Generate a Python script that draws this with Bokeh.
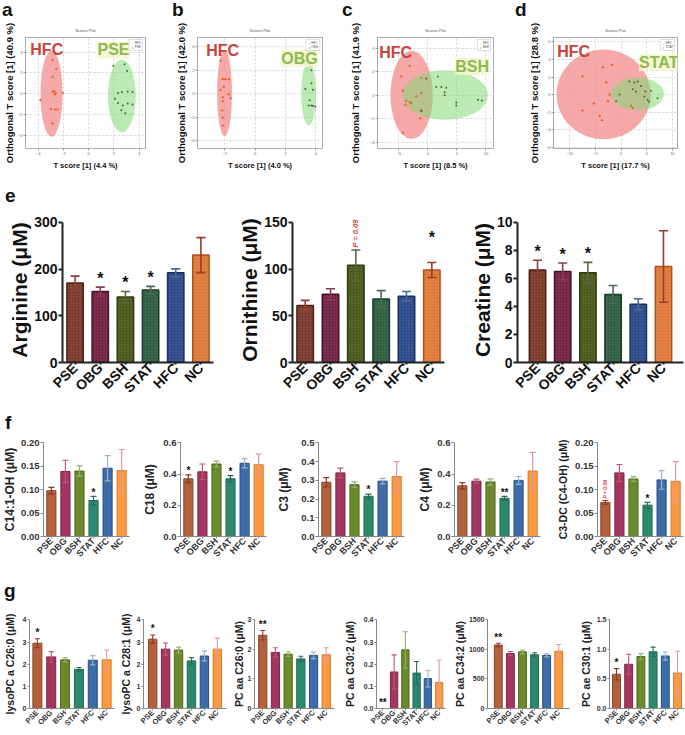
import math
from bokeh.plotting import figure
from bokeh.layouts import row, column
from bokeh.models import (Range1d, FactorRange, FixedTicker, Div, Label, Legend,
                          LegendItem, NumeralTickFormatter, ColumnDataSource)
from bokeh.core.properties import value
from bokeh.embed import file_html
from bokeh.resources import INLINE

FONT = "Liberation Sans"
groups = ["PSE", "OBG", "BSH", "STAT", "HFC", "NC"]

# ---------------- a-d : OPLS-DA score plots ----------------
a_hfc_x = [-2.86, -2.56, -2.86, -2.73, -2.86, -2.61, -2.68, -2.03, -3.82, -2.99, -2.68, -2.48, -2.86]
a_hfc_y = [3.24, 2.38, 1.62, 0.28, 0.17, 0.08, -0.06, 0.08, -0.62, -1.45, -1.51, -1.51, -2.85]
a_grp_x = [1.95, 2.84, 3.04, 2.33, 2.63, 3.09, 3.47, 2.08, 2.33, 3.09, 3.47, 2.71, 2.58, 2.89]
a_grp_y = [2.69, 2.83, 2.18, 0.08, 0.17, 0.22, 0.17, -0.48, -0.90, -0.95, -1.03, -1.12, -1.59, -1.87]
a_ell_hfc = [-2.94, 0.0, 1.75, 8.25]
a_ell_grp = [2.63, -0.2, 2.2, 7.0]

b_hfc_x = [-2.28, -2.13, -1.96, -1.74, -2.07, -2.28, -1.74, -2.13, -1.63, -2.13, -2.17, -2.13, -2.13]
b_hfc_y = [2.83, 1.25, 1.25, 1.25, 0.58, 0.33, -0.05, -0.30, -0.38, -0.63, -1.43, -2.05, -2.73]
b_grp_x = [3.70, 3.70, 3.30, 3.80, 3.59, 3.70, 3.80, 3.52, 3.96]
b_grp_y = [2.00, 0.90, 0.40, 0.33, -0.55, -1.00, -1.05, -1.00, -1.10]
b_ell_hfc = [-2.02, 0.05, 0.98, 7.4]
b_ell_grp = [3.52, 0.0, 0.98, 5.4]

c_hfc_x = [-3.16, -4.60, -1.15, -4.31, -1.15, -2.00, -3.74, -3.16, -3.90, -2.87, -1.15, -1.32, -4.31]
c_hfc_y = [2.48, 1.59, 1.47, 0.38, 0.20, -0.10, -0.48, -0.56, -0.81, -0.68, -1.27, -1.95, -3.16]
c_grp_x = [1.72, -0.29, 1.44, 2.30, 3.16, 2.87, 2.87, 4.89, 4.89, 8.62, 9.31, -1.15]
c_grp_y = [1.59, 1.42, 0.71, 0.71, 0.63, 0.25, 0.00, -0.61, -0.86, -0.38, -0.43, -1.32]
c_ell_hfc = [-2.82, 0.03, 7.3, 7.47]
c_ell_grp = [2.99, 0.03, 14.7, 4.18]

d_hfc_x = [-1.74, -3.55, -7.55, -2.90, -2.26, -2.58, -5.35, -7.55, -4.19, -3.74, 1.94, 2.26]
d_hfc_y = [3.39, 3.11, 2.08, 1.38, 0.00, -0.76, -1.00, -1.80, -2.42, -2.91, -1.28, -1.52]
d_grp_x = [1.61, 2.58, 3.23, 3.87, 2.26, 2.90, 4.71, 5.81, 4.52, 5.16, 5.48, 7.10, -0.97, -0.32]
d_grp_y = [1.49, 1.38, 1.49, 0.97, 0.62, 0.35, 0.35, 0.45, -0.24, -0.59, -0.83, -0.42, -0.76, 0.00]
d_ell_hfc = [-3.42, 0.03, 18.4, 10.2]
d_ell_grp = [3.23, 0.07, 10.3, 3.7]

score_other = ["PSE", "OBG", "BSH", "STAT"]
score_ortho_pct = ["40.9", "42.0", "41.9", "28.8"]
score_t_pct = ["4.4", "4.0", "8.5", "17.7"]

# ---------------- e : amino acids ----------------
arginine = [170, 152, 140, 155, 192, 230]
arginine_sem = [15, 9.5, 12, 8, 8.5, 37.5]
ornithine = [61, 73, 104, 68, 71, 99]
ornithine_sem = [5.5, 6, 16.5, 9, 5, 8]
creatine = [6.6, 6.5, 6.4, 4.85, 4.15, 6.85]
creatine_sem = [0.7, 0.6, 0.75, 0.65, 0.4, 2.55]

# ---------------- f : acylcarnitines ----------------
c14_1_oh = [0.098, 0.139, 0.140, 0.077, 0.146, 0.141]
c14_1_oh_sem = [0.007, 0.024, 0.011, 0.009, 0.027, 0.045]
c18 = [0.37, 0.415, 0.465, 0.37, 0.47, 0.46]
c18_sem = [0.025, 0.05, 0.018, 0.02, 0.03, 0.07]
c3 = [0.29, 0.34, 0.277, 0.215, 0.296, 0.32]
c3_sem = [0.025, 0.025, 0.015, 0.012, 0.015, 0.08]
c4 = [0.325, 0.355, 0.35, 0.245, 0.36, 0.42]
c4_sem = [0.02, 0.013, 0.02, 0.013, 0.025, 0.12]
c3_dc = [0.073, 0.136, 0.123, 0.067, 0.121, 0.118]
c3_dc_sem = [0.004, 0.018, 0.005, 0.006, 0.02, 0.042]

# ---------------- g : phospholipids ----------------
lyso_c26_0 = [2.95, 2.33, 2.2, 1.77, 2.18, 2.2]
lyso_c26_0_sem = [0.2, 0.24, 0.1, 0.08, 0.21, 0.44]
lyso_c28_1 = [3.13, 2.68, 2.64, 2.15, 2.37, 2.68]
lyso_c28_1_sem = [0.19, 0.28, 0.13, 0.15, 0.22, 0.5]
pcaa_c26_0 = [2.48, 1.9, 1.84, 1.68, 1.8, 1.82]
pcaa_c26_0_sem = [0.16, 0.16, 0.08, 0.09, 0.11, 0.24]
pcaa_c30_2 = [0.0, 0.165, 0.265, 0.16, 0.135, 0.118]
pcaa_c30_2_sem = [0.0, 0.077, 0.082, 0.052, 0.038, 0.1]
pcaa_c34_2 = [1075, 930, 960, 910, 900, 970]
pcaa_c34_2_sem = [30, 35, 30, 35, 25, 115]
pcae_c30_1 = [0.58, 0.75, 0.88, 0.96, 0.89, 0.6]
pcae_c30_1_sem = [0.095, 0.17, 0.05, 0.08, 0.07, 0.37]

# ---------------- colours ----------------
e_fill = ["#7b3b2b", "#722444", "#4b5a1d", "#2f5e42", "#2b4b8a", "#e07a38"]
e_edge = ["#4a1f15", "#4a1228", "#2e3a0c", "#1a3a26", "#18305e", "#a85420"]
e_err = ["#8a4236", "#8c3a50", "#56663a", "#4a6a55", "#4a6a9a", "#9a3c2c"]
fg_fill = ["#b3613d", "#a3365f", "#6b8a2c", "#2b8a6c", "#3d6ca9", "#fb9a43"]
fg_edge = ["#8a4528", "#7e2447", "#4f6a1c", "#1f6a50", "#2c5088", "#d87a2a"]
fg_err = ["#8a3a28", "#b85878", "#8fb070", "#2a6a5a", "#9ab4c8", "#e09a9a"]


def scores_panel(w, left, right, lab_so, xr, yr, xt, yt, hx, hy, ox, oy, eh, eo,
                 other, ypct, xpct, pos_h, pos_o):
    p = figure(width=w, height=152, x_range=Range1d(*xr), y_range=Range1d(*yr),
               output_backend="svg", toolbar_location=None,
               min_border_left=left, min_border_right=right,
               min_border_top=5, min_border_bottom=20)
    p.title.text = "Scores Plot"
    p.title.align = "center"
    p.title.text_font_size = "4px"
    p.title.text_font_style = "normal"
    p.title.text_color = "#555555"
    p.title.text_font = FONT
    p.ellipse(x=[eh[0]], y=[eh[1]], width=[eh[2]], height=[eh[3]],
              fill_color="#f28c8c", fill_alpha=0.75, line_color=None)
    p.ellipse(x=[eo[0]], y=[eo[1]], width=[eo[2]], height=[eo[3]],
              fill_color="#84d877", fill_alpha=0.55, line_color=None)
    r1 = p.scatter(hx, hy, marker="triangle", size=3, fill_color="#ee5a24", line_color=None)
    r2 = p.scatter(ox, oy, marker="circle", size=2, fill_color="#3b6d3b", line_color=None)
    p.xaxis.ticker = FixedTicker(ticks=xt)
    p.yaxis.ticker = FixedTicker(ticks=yt)
    for ax in (p.xaxis[0], p.yaxis[0]):
        ax.major_label_text_font_size = "4px"
        ax.major_label_text_color = "#666666"
        ax.major_label_text_font = FONT
        ax.axis_line_color = None
        ax.major_tick_out = 2
        ax.major_tick_in = 0
        ax.minor_tick_out = 0
        ax.minor_tick_in = 0
        ax.major_tick_line_color = "#999999"
        ax.major_label_standoff = 1
        ax.axis_label_text_font = FONT
        ax.axis_label_text_font_style = "bold"
        ax.axis_label_text_color = "#111111"
    p.yaxis.axis_label = "Orthogonal T score [1] (%s %%)" % ypct
    p.yaxis.axis_label_text_font_size = "9.5px"
    p.yaxis.axis_label_standoff = lab_so
    p.xaxis.axis_label = "T score [1] (%s %%)" % xpct
    p.xaxis.axis_label_text_font_size = "7.5px"
    p.xaxis.axis_label_standoff = 3
    p.grid.grid_line_color = "#d5d5d5"
    p.grid.grid_line_dash = "2 2"
    p.outline_line_color = "#aaaaaa"
    dx = xr[1] - xr[0]
    dy = yr[1] - yr[0]
    p.add_layout(Label(x=xr[0] + pos_h[0] * dx, y=yr[0] + pos_h[1] * dy, text="HFC",
                       text_font=FONT, text_font_size="16px", text_font_style="bold",
                       text_color="#c8453b", text_baseline="top"))
    p.add_layout(Label(x=xr[0] + pos_o[0] * dx, y=yr[0] + pos_o[1] * dy, text=other,
                       text_font=FONT, text_font_size="16px", text_font_style="bold",
                       text_color="#8cba4f", text_baseline="top",
                       background_fill_color="#f4f4cc", background_fill_alpha=0.85))
    leg = Legend(items=[LegendItem(label="HFC", renderers=[r1]),
                        LegendItem(label=other, renderers=[r2])],
                 location="top_right", label_text_font_size="3px", glyph_width=3,
                 glyph_height=3, label_height=3, label_width=6, spacing=0, padding=1,
                 margin=2, border_line_color="#bbbbbb", label_standoff=1)
    p.add_layout(leg)
    return p


E = dict(h=200, top=12, bottom=43, yext=1.035, fill=e_fill, edge=e_edge, err=e_err,
         blw=1.5, elw=1.6, cap=9, tick_fs="14px", lab_fs="21px", x_fs="14px",
         axis_col="#222222", axis_w=2, star_fs="16px", soff=0.064, hatch=True,
         tick_col="#111111", tick_out=4, lab_col="#111111")
F = dict(h=130, top=7, bottom=20, yext=1.005, fill=fg_fill, edge=fg_edge, err=fg_err,
         blw=1, elw=1.2, cap=6, tick_fs="9.5px", lab_fs="12px", x_fs="9px",
         axis_col="#888888", axis_w=1, star_fs="10px", soff=0.045, hatch=False,
         tick_col="#333333", tick_out=3, lab_col="#222222")
G = dict(h=121, top=7, bottom=22, yext=1.005, fill=fg_fill, edge=fg_edge, err=fg_err,
         blw=1, elw=1.1, cap=5, tick_fs="7px", lab_fs="10.5px", x_fs="7.5px",
         axis_col="#888888", axis_w=1, star_fs="10px", soff=0.07, hatch=False,
         tick_col="#333333", tick_out=2, lab_col="#222222")


def bar_panel(vals, sems, ymax, ystep, fmt, ylabel, w, left, right, xpad, lab_so, st,
              marks=(), note=None, lab_fs=None):
    lo = [v - s for v, s in zip(vals, sems)]
    hi = [v + s for v, s in zip(vals, sems)]
    p = figure(width=w, height=st["h"],
               x_range=FactorRange(factors=groups, range_padding=xpad),
               y_range=Range1d(0, ymax * st["yext"]),
               output_backend="svg", toolbar_location=None,
               min_border_left=left, min_border_right=right,
               min_border_top=st["top"], min_border_bottom=st["bottom"])
    src = ColumnDataSource(dict(g=groups, v=vals, lo=lo, hi=hi,
                                fill=st["fill"], edge=st["edge"], err=st["err"]))
    kw = {}
    if st["hatch"]:
        kw = dict(hatch_pattern="dot", hatch_scale=3, hatch_color="#ffffff", hatch_alpha=0.18)
    p.vbar(x="g", top="v", width=0.65, source=src, fill_color="fill",
           line_color="edge", line_width=st["blw"], **kw)
    p.segment(x0="g", y0="lo", x1="g", y1="hi", source=src, line_color="err",
              line_width=st["elw"])
    p.scatter(x="g", y="hi", marker="dash", size=st["cap"], line_color="err",
              line_width=st["elw"], source=src)
    p.scatter(x="g", y="lo", marker="dash", size=st["cap"], line_color="err",
              line_width=st["elw"], source=src)
    if marks:
        mx = [m[0] for m in marks]
        mt = [m[1] for m in marks]
        my = [hi[groups.index(m[0])] + (m[2] if len(m) > 2 else st["soff"]) * ymax
              for m in marks]
        p.text(x=mx, y=my, text=mt, text_align="center", text_baseline="middle",
               text_font=value(FONT), text_font_size=st["star_fs"], text_font_style="bold",
               text_color="#111111")
    if note is not None:
        g, txt, fs, off = note
        p.text(x=[g], y=[hi[groups.index(g)] + off * ymax], text=[txt], angle=math.pi / 2,
               text_align="left", text_baseline="middle", text_font=value(FONT),
               text_font_size=fs, text_font_style="bold italic", text_color="#e0473a")
    nt = int(round(ymax / ystep))
    p.yaxis.ticker = FixedTicker(ticks=[round(i * ystep, 6) for i in range(nt + 1)])
    p.yaxis.bounds = (0, ymax)
    p.yaxis.formatter = NumeralTickFormatter(format=fmt)
    p.yaxis.axis_label = ylabel
    p.yaxis.axis_label_text_font_size = lab_fs or st["lab_fs"]
    p.yaxis.axis_label_text_font_style = "bold"
    p.yaxis.axis_label_text_font = FONT
    p.yaxis.axis_label_text_color = st["lab_col"]
    p.yaxis.axis_label_standoff = lab_so
    p.yaxis.minor_tick_out = 0
    p.yaxis.minor_tick_in = 0
    for ax in (p.xaxis[0], p.yaxis[0]):
        ax.axis_line_color = st["axis_col"]
        ax.axis_line_width = st["axis_w"]
        ax.major_tick_line_color = st["axis_col"]
        ax.major_tick_line_width = st["axis_w"]
        ax.major_tick_out = st["tick_out"]
        ax.major_tick_in = 0
        ax.major_label_text_font = FONT
        ax.major_label_text_font_style = "bold"
        ax.major_label_text_color = st["tick_col"]
        ax.major_label_standoff = 1
    p.yaxis.major_label_text_font_size = st["tick_fs"]
    p.xaxis.major_label_text_font_size = st["x_fs"]
    p.xaxis.major_label_orientation = math.pi / 4
    p.xaxis.major_tick_out = 2
    p.grid.visible = False
    p.outline_line_color = None
    return p


def letter_div(items, height, top):
    spans = "".join('<span style="position:absolute;left:%dpx;top:%dpx">%s</span>' % (x, top, t)
                    for t, x in items)
    html = ('<div style="position:relative;width:685px;height:%dpx;'
            'font-family:\'Liberation Sans\',Arial,sans-serif;font-weight:bold;'
            'font-size:19px;line-height:20px;color:#111111">%s</div>' % (height, spans))
    return Div(text=html, width=685, height=height, margin=0)


# ---------- row 1 ----------
pa = scores_panel(172, 20, 27, 0, (-5.0, 4.5), (-5.26, 5.4), [-4, -2, 0, 2, 4], [-4, -2, 0, 2, 4],
                  a_hfc_x, a_hfc_y, a_grp_x, a_grp_y, a_ell_hfc, a_ell_grp,
                  score_other[0], score_ortho_pct[0], score_t_pct[0], (0.04, 0.965), (0.6, 0.965))
pb = scores_panel(173, 23, 23, 0, (-3.8, 4.43), (-4.68, 4.8), [-2, 0, 2, 4], [-4, -2, 0, 2, 4],
                  b_hfc_x, b_hfc_y, b_grp_x, b_grp_y, b_ell_hfc, b_ell_grp,
                  score_other[1], score_ortho_pct[1], score_t_pct[1], (0.07, 0.96), (0.67, 0.89))
pc = scores_panel(173, 32, 25, 6, (-8.7, 11.3), (-4.5, 4.89), [-5, 0, 5, 10], [-4, -2, 0, 2, 4],
                  c_hfc_x, c_hfc_y, c_grp_x, c_grp_y, c_ell_hfc, c_ell_grp,
                  score_other[2], score_ortho_pct[2], score_t_pct[2], (0.015, 0.945), (0.67, 0.815))
pd_ = scores_panel(167, 35, 8, 3, (-13.2, 11.0), (-6.14, 6.5), [-10, -5, 0, 5, 10], [-6, -4, -2, 0, 2, 4, 6],
                   d_hfc_x, d_hfc_y, d_grp_x, d_grp_y, d_ell_hfc, d_ell_grp,
                   score_other[3], score_ortho_pct[3], score_t_pct[3], (0.03, 0.95), (0.69, 0.85))

# ---------- row e ----------
e1 = bar_panel(arginine, arginine_sem, 300, 100, "0", "Arginine (μM)", 230, 62, 17, 0.0, 0, E,
               marks=[("OBG", "*"), ("BSH", "*"), ("STAT", "*")])
e2 = bar_panel(ornithine, ornithine_sem, 150, 50, "0", "Ornithine (μM)", 225, 62, 11, 0.0, 0, E,
               marks=[("NC", "*", 0.18)], note=("BSH", "P = 0.09", "7.5px", 0.017))
e3 = bar_panel(creatine, creatine_sem, 10, 2, "0", "Creatine (μM)", 230, 62, 2, 0.098, 0, E,
               marks=[("PSE", "*"), ("OBG", "*"), ("BSH", "*")])

# ---------- row f ----------
f1 = bar_panel(c14_1_oh, c14_1_oh_sem, 0.20, 0.05, "0.00", "C14:1-OH (μM)", 137, 43, 8, 0.02, 1, F,
               marks=[("STAT", "*")])
f2 = bar_panel(c18, c18_sem, 0.6, 0.2, "0.0", "C18 (μM)", 137, 43, 8, 0.02, 3, F,
               marks=[("PSE", "*"), ("STAT", "*")])
f3 = bar_panel(c3, c3_sem, 0.5, 0.1, "0.0", "C3 (μM)", 137, 44, 7, 0.02, 7, F,
               marks=[("STAT", "*")])
f4 = bar_panel(c4, c4_sem, 0.6, 0.2, "0.0", "C4 (μM)", 142, 43, 13, 0.02, 2, F,
               marks=[("STAT", "**")])
f5 = bar_panel(c3_dc, c3_dc_sem, 0.20, 0.05, "0.00", "C3-DC (C4-OH) (μM)", 132, 44, 2, 0.02, 3, F,
               marks=[("STAT", "*")], note=("PSE", "P = 0.09", "5px", 0.02), lab_fs="10.5px")

# ---------- row g ----------
g1 = bar_panel(lyso_c26_0, lyso_c26_0_sem, 4, 1, "0", "lysoPC a C26:0 (μM)", 116, 28, 2, 0.023, 4, G,
               marks=[("PSE", "*")])
g2 = bar_panel(lyso_c28_1, lyso_c28_1_sem, 4, 1, "0", "lysoPC a C28:1 (μM)", 113, 22, 3, 0.07, 2, G,
               marks=[("PSE", "*")])
g3 = bar_panel(pcaa_c26_0, pcaa_c26_0_sem, 3, 1, "0", "PC aa C26:0 (μM)", 111, 23, 6, 0.05, 0, G,
               marks=[("PSE", "**")])
g4 = bar_panel(pcaa_c30_2, pcaa_c30_2_sem, 0.4, 0.1, "0.0", "PC aa C30:2 (μM)", 110, 32, 5, 0.022, 5, G,
               marks=[("PSE", "**")])
g5 = bar_panel(pcaa_c34_2, pcaa_c34_2_sem, 1500, 500, "0", "PC aa C34:2 (μM)", 125, 37, 6, 0.13, 0, G,
               marks=[("PSE", "**")])
g6 = bar_panel(pcae_c30_1, pcae_c30_1_sem, 1.5, 0.5, "0.0", "PC ae C30:1 (μM)", 110, 34, 1, 0.025, 2, G,
               marks=[("PSE", "*")])

layout = column(
    letter_div([("a", 2), ("b", 172), ("c", 342), ("d", 515)], 20, 0),
    row(pa, pb, pc, pd_),
    letter_div([("e", 5)], 33, 14),
    row(e1, e2, e3),
    letter_div([("f", 5)], 30, 8),
    row(f1, f2, f3, f4, f5),
    letter_div([("g", 4)], 47, 16),
    row(g1, g2, g3, g4, g5, g6),
)

open("out.html", "w").write(file_html(layout, INLINE))
